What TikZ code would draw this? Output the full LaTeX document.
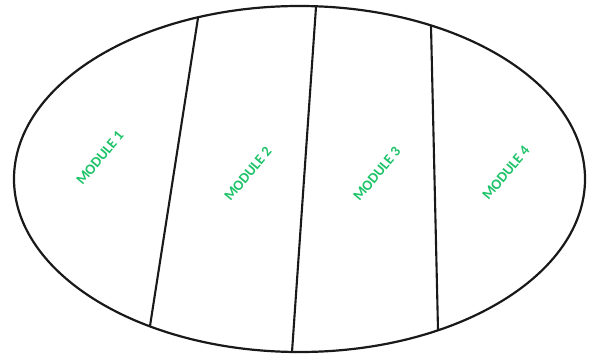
\documentclass[tikz,border=0pt]{standalone}
\usepackage{fontspec}
\setmainfont{Carlito}
\definecolor{modgreen}{RGB}{30,195,105}
\begin{document}
\begin{tikzpicture}[x=1pt,y=-1pt,
  outline/.style={draw=black!90,line width=2.2pt},
  divider/.style={draw=black!90,line width=2.1pt},
  modlabel/.style={text=modgreen,font=\fontsize{14.5}{14.5}\selectfont\bfseries,rotate=50,inner sep=0pt}]
\useasboundingbox (0,0) rectangle (593,356);
\draw[outline] (299.5,179) ellipse [x radius=285.5, y radius=173];
\coordinate (t1) at (198,18);  \coordinate (b1) at (150,326);
\coordinate (t2) at (316,7);   \coordinate (b2) at (292,352);
\coordinate (t3) at (431,26);  \coordinate (b3) at (438,330);
\draw[divider] (t1) -- (b1);
\draw[divider] (t2) -- (b2);
\draw[divider] (t3) -- (b3);
\node[modlabel] (m1) at (100,158) {MODULE 1};
\node[modlabel] (m2) at (248,174) {MODULE 2};
\node[modlabel] (m3) at (377,174) {MODULE 3};
\node[modlabel] (m4) at (506,173) {MODULE 4};
\end{tikzpicture}
\end{document}
